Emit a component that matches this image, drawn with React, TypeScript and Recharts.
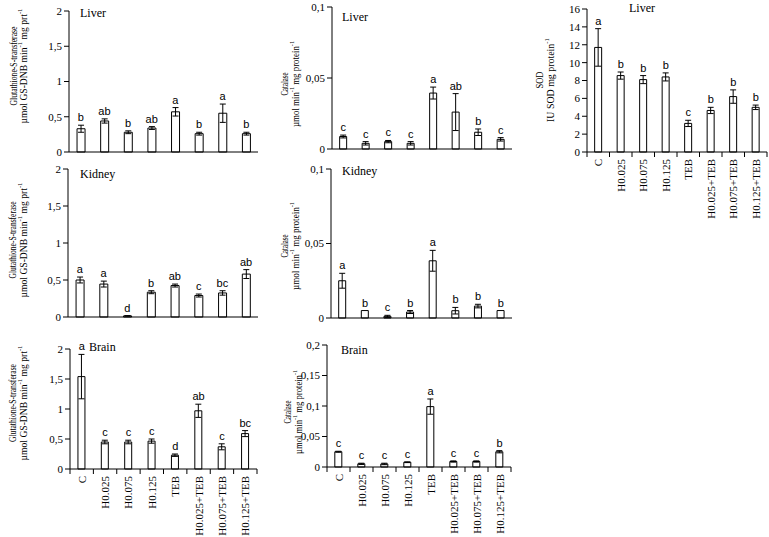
import React from 'react';
import { ComposedChart, Bar, Line, XAxis, YAxis, ErrorBar, LabelList } from 'recharts';

const SERIF = '"Liberation Serif", "Times New Roman", serif';
const SANS = '"Liberation Sans", Arial, sans-serif';

const groups = ['C', 'H0.025', 'H0.075', 'H0.125', 'TEB', 'H0.025+TEB', 'H0.075+TEB', 'H0.125+TEB'];

const gstTicks = [0, 0.5, 1, 1.5, 2];
const catTicks = [0, 0.05, 0.1];
const catBrainTicks = [0, 0.05, 0.1, 0.15, 0.2];
const sodTicks = [0, 2, 4, 6, 8, 10, 12, 14, 16];

const gstLiver = [0.33, 0.44, 0.28, 0.34, 0.57, 0.26, 0.55, 0.26];
const gstLiverErr = [0.05, 0.03, 0.02, 0.02, 0.06, 0.02, 0.13, 0.02];
const gstLiverSig = ['b', 'ab', 'b', 'ab', 'a', 'b', 'a', 'b'];

const catLiver = [0.0088, 0.004, 0.0052, 0.004, 0.0394, 0.026, 0.0118, 0.0068];
const catLiverErr = [0.001, 0.0012, 0.0008, 0.0012, 0.0042, 0.013, 0.0023, 0.0012];
const catLiverSig = ['c', 'c', 'c', 'c', 'a', 'ab', 'b', 'c'];

const sodLiver = [11.7, 8.55, 8.1, 8.4, 3.2, 4.65, 6.2, 5.0];
const sodLiverErr = [2.1, 0.4, 0.45, 0.45, 0.35, 0.35, 0.75, 0.25];
const sodLiverSig = ['a', 'b', 'b', 'b', 'c', 'b', 'b', 'b'];

const gstKidney = [0.5, 0.445, 0.015, 0.335, 0.425, 0.29, 0.325, 0.58];
const gstKidneyErr = [0.04, 0.04, 0.003, 0.02, 0.02, 0.02, 0.03, 0.06];
const gstKidneySig = ['a', 'a', 'd', 'b', 'ab', 'c', 'bc', 'ab'];

const catKidney = [0.025, 0.005, 0.0011, 0.004, 0.0384, 0.0049, 0.008, 0.005];
const catKidneyErr = [0.005, 0, 0.0007, 0.001, 0.007, 0.0022, 0.0012, 0];
const catKidneySig = ['a', 'b', 'c', 'b', 'a', 'b', 'b', 'b'];

const gstBrain = [1.54, 0.45, 0.45, 0.465, 0.23, 0.97, 0.37, 0.59];
const gstBrainErr = [0.37, 0.03, 0.03, 0.035, 0.02, 0.11, 0.05, 0.05];
const gstBrainSig = ['a', 'c', 'c', 'c', 'd', 'ab', 'c', 'bc'];

const catBrain = [0.025, 0.0052, 0.005, 0.0078, 0.099, 0.009, 0.009, 0.025];
const catBrainErr = [0.0008, 0.001, 0.0012, 0.0006, 0.0125, 0.001, 0.001, 0.0018];
const catBrainSig = ['c', 'c', 'c', 'c', 'a', 'c', 'c', 'b'];

type Seg = [string, string?];

const gstUnit: Seg[] = [['µmol GS-DNB min', '-1'], [' mg prt', '-1']];
const catUnit: Seg[] = [['µmol min', '-1'], [' mg protein', '-1']];
const sodUnit: Seg[] = [['IU SOD mg protein', '-1']];

const fmt = (v: number) => String(v).replace('.', ',');

function Panel(p: any) {
  const { box, plot } = p;
  const yw = 30;
  const xh = p.showCats ? box.y + box.h - plot.b : 1;
  const margin = {
    top: plot.t - box.y,
    left: plot.l - box.x - yw,
    right: box.x + box.w - plot.r,
    bottom: box.y + box.h - plot.b - xh,
  };
  const rows = groups.map((g, i) => ({
    g,
    v: p.values[i],
    e: p.errs[i],
    top: p.values[i] + p.errs[i],
    s: p.sigs[i],
  }));
  const step = (plot.r - plot.l) / groups.length;
  const ox = box.x;
  const oy = box.y;

  const renderCat = (t: any) => {
    const { x, y, payload, index } = t;
    return (
      <g>
        <line x1={x - step / 2} x2={x - step / 2} y1={y} y2={y + 5} stroke="#000" />
        {index === groups.length - 1 && <line x1={x + step / 2} x2={x + step / 2} y1={y} y2={y + 5} stroke="#000" />}
        <text
          x={x}
          y={y + 7}
          transform={`rotate(-90, ${x}, ${y + 7})`}
          textAnchor="end"
          dominantBaseline="central"
          fontFamily={SERIF}
          fontSize={11}
          fill="#000"
        >
          {payload.value}
        </text>
      </g>
    );
  };

  const renderTitles = () => {
    const [x1, x2] = p.yTitleX;
    const cy = p.yTitleCy - oy;
    const a = x1 - ox;
    const b = x2 - ox;
    return (
      <g>
        <text x={p.titlePos[0] - ox} y={p.titlePos[1] - oy} fontFamily={SERIF} fontSize={12} fill="#000">
          {p.title}
        </text>
        <text
          x={a}
          y={cy}
          transform={`rotate(-90, ${a}, ${cy})`}
          textAnchor="middle"
          dominantBaseline="central"
          fontFamily={SERIF}
          fontSize={10}
          fill="#000"
          textLength={p.yLens[0]}
          lengthAdjust="spacingAndGlyphs"
        >
          {p.yTitle}
        </text>
        <text
          x={b}
          y={cy}
          transform={`rotate(-90, ${b}, ${cy})`}
          textAnchor="middle"
          dominantBaseline="central"
          fontFamily={SERIF}
          fontSize={10}
          fill="#000"
          textLength={p.yLens[1]}
          lengthAdjust="spacingAndGlyphs"
        >
          {p.yUnit.map((sg: Seg, i: number) => (
            <React.Fragment key={i}>
              <tspan>{sg[0]}</tspan>
              {sg[1] && (
                <>
                  <tspan dy={-3} fontSize={7}>{sg[1]}</tspan>
                  <tspan dy={3}> </tspan>
                </>
              )}
            </React.Fragment>
          ))}
        </text>
      </g>
    );
  };

  const renderSig = (l: any) => (
    <text x={l.x} y={l.y - 4} textAnchor="middle" fontFamily={SANS} fontSize={11} fill="#000">
      {l.value}
    </text>
  );

  return (
    <div style={{ position: 'absolute', left: box.x, top: box.y }}>
      <ComposedChart width={box.w} height={box.h} data={rows} margin={margin} barCategoryGap="34%">
        <XAxis
          dataKey="g"
          height={xh}
          interval={0}
          axisLine={{ stroke: '#000' }}
          tickLine={false}
          tickSize={0}
          tickMargin={0}
          tick={p.showCats ? renderCat : false}
        />
        <YAxis
          width={yw}
          domain={[0, p.ticks[p.ticks.length - 1]]}
          ticks={p.ticks}
          interval={0}
          tickFormatter={fmt}
          axisLine={{ stroke: '#000' }}
          tickLine={{ stroke: '#000' }}
          tickSize={5}
          tick={{ fill: '#000', fontSize: 11, fontFamily: SERIF }}
          label={renderTitles}
        />
        <Bar dataKey="v" fill="#fff" stroke="#000" strokeWidth={1} isAnimationActive={false}>
          <ErrorBar dataKey="e" width={3} stroke="#000" strokeWidth={1} />
        </Bar>
        <Line dataKey="top" stroke="none" dot={false} activeDot={false} isAnimationActive={false} legendType="none">
          <LabelList dataKey="s" content={renderSig} />
        </Line>
      </ComposedChart>
    </div>
  );
}

export default function App() {
  return (
    <div style={{ position: 'absolute', left: 0, top: 0, width: 769, height: 537, background: '#fff' }}>
      <Panel
        box={{ x: 0, y: 0, w: 265, h: 160 }}
        plot={{ l: 69, t: 11, r: 258, b: 152 }}
        values={gstLiver} errs={gstLiverErr} sigs={gstLiverSig} ticks={gstTicks}
        title="Liver" titlePos={[80, 17]}
        yTitle="Glutathione-S-transferase" yUnit={gstUnit} yTitleX={[13, 23]} yTitleCy={66} yLens={[79, 115]}
      />
      <Panel
        box={{ x: 265, y: 0, w: 250, h: 160 }}
        plot={{ l: 332, t: 7, r: 512, b: 149 }}
        values={catLiver} errs={catLiverErr} sigs={catLiverSig} ticks={catTicks}
        title="Liver" titlePos={[342, 21]}
        yTitle="Catalase" yUnit={catUnit} yTitleX={[284, 295]} yTitleCy={84} yLens={[23, 86]}
      />
      <Panel
        box={{ x: 515, y: 0, w: 254, h: 225 }}
        plot={{ l: 587, t: 9, r: 767, b: 152 }}
        values={sodLiver} errs={sodLiverErr} sigs={sodLiverSig} ticks={sodTicks} showCats
        title="Liver" titlePos={[629, 12]}
        yTitle="SOD" yUnit={sodUnit} yTitleX={[539, 550]} yTitleCy={80} yLens={[17, 84]}
      />
      <Panel
        box={{ x: 0, y: 162, w: 265, h: 163 }}
        plot={{ l: 68, t: 169, r: 258, b: 317 }}
        values={gstKidney} errs={gstKidneyErr} sigs={gstKidneySig} ticks={gstTicks}
        title="Kidney" titlePos={[80, 178]}
        yTitle="Glutathione-S-transferase" yUnit={gstUnit} yTitleX={[12, 23]} yTitleCy={240} yLens={[77, 115]}
      />
      <Panel
        box={{ x: 265, y: 162, w: 250, h: 163 }}
        plot={{ l: 331, t: 169, r: 512, b: 318 }}
        values={catKidney} errs={catKidneyErr} sigs={catKidneySig} ticks={catTicks}
        title="Kidney" titlePos={[342, 175]}
        yTitle="Catalase" yUnit={catUnit} yTitleX={[284, 295]} yTitleCy={246} yLens={[23, 88]}
      />
      <Panel
        box={{ x: 0, y: 330, w: 265, h: 207 }}
        plot={{ l: 70, t: 349, r: 257, b: 469 }}
        values={gstBrain} errs={gstBrainErr} sigs={gstBrainSig} ticks={gstTicks} showCats
        title="Brain" titlePos={[89, 351]}
        yTitle="Glutathione-S-transferase" yUnit={gstUnit} yTitleX={[12, 23]} yTitleCy={403} yLens={[78, 115]}
      />
      <Panel
        box={{ x: 265, y: 330, w: 250, h: 207 }}
        plot={{ l: 327, t: 345, r: 511, b: 467 }}
        values={catBrain} errs={catBrainErr} sigs={catBrainSig} ticks={catBrainTicks} showCats
        title="Brain" titlePos={[341, 354]}
        yTitle="Catalase" yUnit={catUnit} yTitleX={[287, 298]} yTitleCy={412} yLens={[23, 84]}
      />
    </div>
  );
}
